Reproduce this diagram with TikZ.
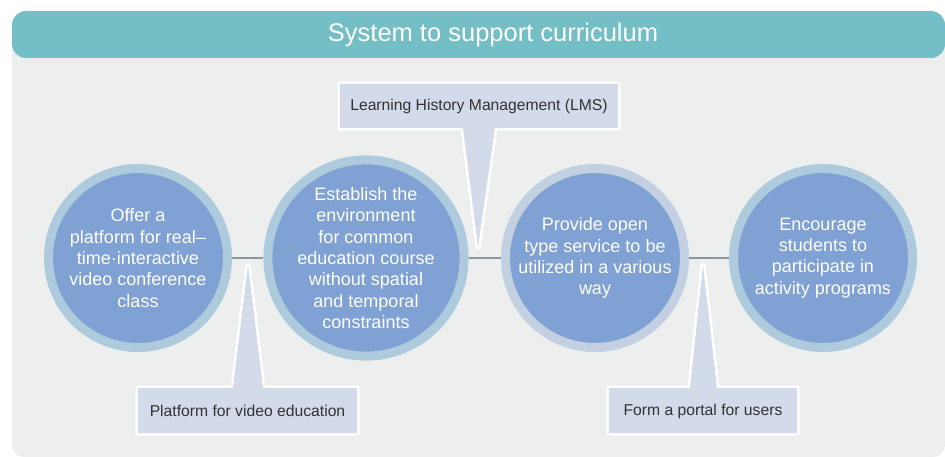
\documentclass[tikz,border=0pt]{standalone}
\usepackage{fontspec}
\setmainfont{Liberation Sans}
\definecolor{headteal}{HTML}{74BFC5}
\definecolor{panelgray}{HTML}{EDEFEE}
\definecolor{innerblue}{HTML}{7FA1D3}
\definecolor{ringA}{HTML}{AECBDD}
\definecolor{ringB}{HTML}{C3D0E1}
\definecolor{calloutfill}{HTML}{D3DAEA}
\definecolor{callouttext}{HTML}{333333}
\definecolor{connline}{HTML}{8C969B}
\tikzset{
  ringcircle/.style={circle, fill=innerblue, draw=#1, line width=9pt, minimum size=179pt,
    inner sep=0pt, outer sep=4.5pt, text=white, align=center,
    font=\fontsize{18}{21.3}\selectfont},
  connector/.style={draw=connline, line width=1.4pt},
  calloutshape/.style={fill=calloutfill, draw=white, line width=5pt, line join=round},
  callouttxt/.style={text=callouttext, font=\fontsize{15.7}{18}\selectfont, inner sep=0pt},
}
\begin{document}
\begin{tikzpicture}[x=1pt,y=-1pt]
\useasboundingbox (0,0) rectangle (945,457);
% panel and header
\fill[panelgray, rounded corners=12pt] (12,30) rectangle (945,457);
\fill[headteal, rounded corners=14pt] (12,11) rectangle (945,58);
\node[text=white, font=\fontsize{25.5}{30}\selectfont] (title) at (493,35) {System to support curriculum};
% callouts
\filldraw[calloutshape] (340,84) -- (618,84) -- (618,128) -- (495,128) -- (478,247) -- (463,128) -- (340,128) -- cycle;
\fill[calloutfill] (340,84) -- (618,84) -- (618,128) -- (495,128) -- (478,247) -- (463,128) -- (340,128) -- cycle;
\filldraw[calloutshape] (138,388) -- (233,388) -- (248,265) -- (263,388) -- (357,388) -- (357,433) -- (138,433) -- cycle;
\fill[calloutfill] (138,388) -- (233,388) -- (248,265) -- (263,388) -- (357,388) -- (357,433) -- (138,433) -- cycle;
\filldraw[calloutshape] (609,388) -- (690,388) -- (703,265) -- (717,388) -- (797,388) -- (797,433) -- (609,433) -- cycle;
\fill[calloutfill] (609,388) -- (690,388) -- (703,265) -- (717,388) -- (797,388) -- (797,433) -- (609,433) -- cycle;
\node[callouttxt] (lms) at (479,106) {Learning History Management (LMS)};
\node[callouttxt] (video) at (247.5,411) {Platform for video education};
\node[callouttxt] (portal) at (703,411) {Form a portal for users};
% circles
\node[ringcircle=ringA] (c1) at (138,258) {Offer a\\platform for real–\\time·interactive\\video conference\\class};
\node[ringcircle=ringA] (c2) at (366,258) {Establish the\\environment\\for common\\education course\\without spatial\\and temporal\\constraints};
\node[ringcircle=ringB] (c3) at (595,258) {Provide open\\type service to be\\utilized in a various\\way};
\node[ringcircle=ringA] (c4) at (823,258) {Encourage\\students to\\participate in\\activity programs};
% connectors
\draw[connector] (c1) -- (c2);
\draw[connector] (c2) -- (c3);
\draw[connector] (c3) -- (c4);
\end{tikzpicture}
\end{document}
